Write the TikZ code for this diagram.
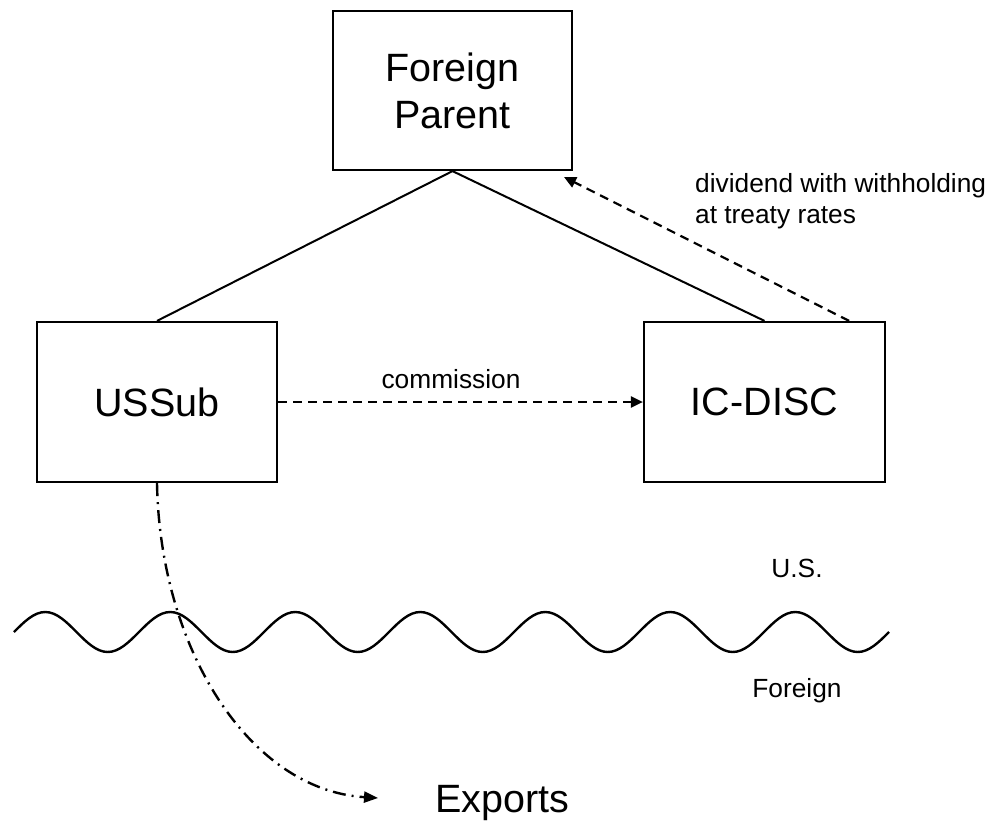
\documentclass[tikz,border=0pt]{standalone}
\usepackage{fontspec}
\setmainfont{Liberation Sans}
\usetikzlibrary{arrows.meta,calc}
\begin{document}
\begin{tikzpicture}[x=1pt,y=-1pt,
  box/.style={draw,line width=2.2pt,inner sep=0pt,minimum width=240pt,minimum height=160pt,
    align=center,font=\fontsize{39.5}{47}\selectfont},
  link/.style={line width=2pt},
  flow/.style={line width=2.2pt,dash pattern=on 9pt off 6pt,
    -{Triangle[length=12pt,width=11pt]}},
  export/.style={line width=2.4pt,dash pattern=on 13pt off 6pt on 2pt off 6pt,
    -{Triangle[length=14pt,width=11pt]}},
  small/.style={font=\fontsize{26.3}{31}\selectfont,inner sep=0pt},
  big/.style={font=\fontsize{39.5}{47}\selectfont,inner sep=0pt}]
\useasboundingbox (0,0) rectangle (993,824);

% entities
\node[box,minimum width=239pt,minimum height=159pt] (parent) at (452.5,90.5) {Foreign\\Parent};
\node[box] (ussub) at (157,402) {USSub};
\node[box,minimum width=241pt] (icdisc) at (764.5,402) {IC-DISC};

% ownership
\draw[link] (parent.south) -- (ussub.north);
\draw[link] (parent.south) -- (icdisc.north);

% payments
\draw[flow] (ussub.east) -- (icdisc.west);
\node[small,anchor=base] (commission) at (451,388) {commission};

\coordinate (divStart) at ($(icdisc.north east)+(-37,0)$);
\coordinate (divEnd) at (564,177);
\draw[flow] (divStart) -- (divEnd);
\node[small,anchor=north west,align=left] (dividend) at (695,173)
  {dividend with withholding\\at treaty rates};

% border between U.S. and foreign: seven full sine periods
\draw[line width=2.4pt] (14,632)
  foreach \k in {1,...,7} {
    sin ++(31.25,-20) cos ++(31.25,20) sin ++(31.25,20) cos ++(31.25,-20)
  };
\node[small,anchor=base] (us) at (797,577) {U.S.};
\node[small,anchor=base] (foreign) at (797,697) {Foreign};

% exports leave the U.S.
\coordinate (exportTip) at (378,798);
\draw[export] (ussub.south) .. controls (160,650) and (250,790) .. (exportTip);
\node[big,anchor=base] (exports) at (502,812) {Exports};
\end{tikzpicture}
\end{document}
